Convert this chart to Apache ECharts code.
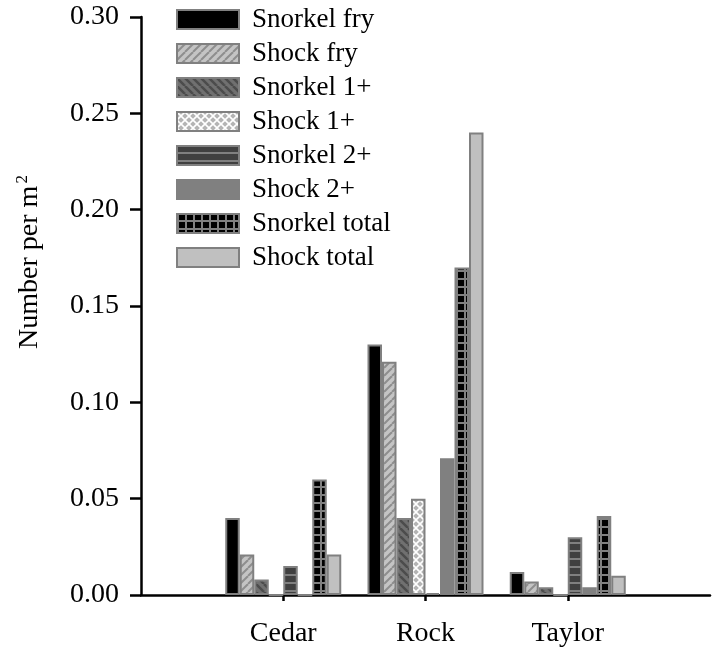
<!DOCTYPE html>
<html>
<head>
<meta charset="utf-8">
<script src="https://cdn.jsdelivr.net/npm/echarts@6/dist/echarts.min.js"></script>
<style>html,body{margin:0;padding:0;background:#fff;}#main{width:713px;height:654px;}</style>
</head>
<body>
<div id="main"></div>
<script>
// ---- data ----
const categories = ['Cedar', 'Rock', 'Taylor'];
const seriesNames = ['Snorkel fry', 'Shock fry', 'Snorkel 1+', 'Shock 1+', 'Snorkel 2+', 'Shock 2+', 'Snorkel total', 'Shock total'];
const snorkelFry   = [0.040, 0.130, 0.012];
const shockFry     = [0.021, 0.121, 0.007];
const snorkel1     = [0.008, 0.040, 0.004];
const shock1       = [0,     0.050, 0];
const snorkel2     = [0.015, 0.001, 0.030];
const shock2       = [0,     0.071, 0.004];
const snorkelTotal = [0.060, 0.170, 0.041];
const shockTotal   = [0.021, 0.240, 0.010];
const yTicks = [0, 0.05, 0.10, 0.15, 0.20, 0.25, 0.30];

// ---- patterns ----
function pat(w, h, draw) {
  const c = document.createElement('canvas');
  c.width = w; c.height = h;
  const ctx = c.getContext('2d');
  draw(ctx, w, h);
  return { image: c, repeat: 'repeat' };
}
const fills = [
  '#000000',
  pat(8, 8, (ctx) => { ctx.fillStyle = '#c4c4c4'; ctx.fillRect(0,0,8,8); ctx.strokeStyle = '#8e8e8e'; ctx.lineWidth = 2;
    for (const k of [-8, 0, 8]) { ctx.beginPath(); ctx.moveTo(k, 8); ctx.lineTo(k + 8, 0); ctx.stroke(); } }),
  pat(8, 8, (ctx) => { ctx.fillStyle = '#707070'; ctx.fillRect(0,0,8,8); ctx.strokeStyle = '#4c4c4c'; ctx.lineWidth = 2.5;
    for (const k of [-8, 0, 8]) { ctx.beginPath(); ctx.moveTo(k, 0); ctx.lineTo(k + 8, 8); ctx.stroke(); } }),
  pat(8, 8, (ctx) => { ctx.fillStyle = '#b4b4b4'; ctx.fillRect(0,0,8,8); ctx.strokeStyle = '#ffffff'; ctx.lineWidth = 1.6;
    for (const k of [-8, 0, 8]) { ctx.beginPath(); ctx.moveTo(k, 8); ctx.lineTo(k + 8, 0); ctx.stroke();
      ctx.beginPath(); ctx.moveTo(k, 0); ctx.lineTo(k + 8, 8); ctx.stroke(); } }),
  pat(8, 8, (ctx) => { ctx.fillStyle = '#404040'; ctx.fillRect(0,0,8,8); ctx.fillStyle = '#808080'; ctx.fillRect(0,6,8,2); }),
  '#808080',
  pat(8, 8, (ctx) => { ctx.fillStyle = '#808080'; ctx.fillRect(0,0,8,8); ctx.fillStyle = '#000000'; ctx.fillRect(2,0,6,6); }),
  '#c0c0c0'
];
const values = [snorkelFry, shockFry, snorkel1, shock1, snorkel2, shock2, snorkelTotal, shockTotal];

// axis has empty end slots so categories sit at 1..3 of 0..4
const axisData = [''].concat(categories, ['']);
const FONT = 'Liberation Serif';
const LEG_FS = 27;

const series = seriesNames.map((name, i) => ({
  name: name,
  type: 'bar',
  barWidth: 14.5,
  barGap: '0%',
  data: ['-'].concat(values[i], ['-']),
  itemStyle: { color: fills[i], borderColor: '#808080', borderWidth: 2 },
  emphasis: { disabled: true }
}));

const chart = echarts.init(document.getElementById('main'), null, { renderer: 'canvas' });
chart.setOption({
  animation: false,
  backgroundColor: '#ffffff',
  grid: { left: 141, right: -4, top: 17, bottom: 59, containLabel: false },
  legend: {
    orient: 'vertical', left: 171, top: 1,
    itemWidth: 62, itemHeight: 19, itemGap: 34 - LEG_FS,
    icon: 'rect',
    selectedMode: false,
    data: seriesNames,
    textStyle: { fontFamily: FONT, fontSize: LEG_FS, color: '#000', padding: [0, 0, 0, 8] }
  },
  xAxis: {
    type: 'category', data: axisData, boundaryGap: false,
    axisLine: { lineStyle: { color: '#000', width: 2.5 } },
    axisTick: { length: 6, lineStyle: { color: '#000', width: 2.5 }, interval: (idx) => idx >= 1 && idx <= categories.length },
    axisLabel: { fontFamily: FONT, fontSize: 28, color: '#000', margin: 25, interval: 0 },
    splitLine: { show: false }
  },
  yAxis: {
    type: 'value', min: yTicks[0], max: yTicks[yTicks.length - 1], interval: 0.05,
    axisLine: { show: true, lineStyle: { color: '#000', width: 2.5 } },
    axisTick: { show: true, length: 11, lineStyle: { color: '#000', width: 2.5 } },
    axisLabel: { fontFamily: FONT, fontSize: 28, color: '#000', margin: 22, formatter: (v) => v.toFixed(2) },
    splitLine: { show: false }
  },
  graphic: [{
    type: 'text', x: 30, y: 262, rotation: Math.PI / 2,
    style: {
      text: 'Number per m{sup|2}',
      font: '28px "Liberation Serif"', fill: '#000',
      align: 'center', verticalAlign: 'middle',
      rich: { sup: { fontSize: 17, fontFamily: FONT, verticalAlign: 'top', padding: [0, 0, 14, 2] } }
    }
  }],
  series: series
});
</script>
</body>
</html>
